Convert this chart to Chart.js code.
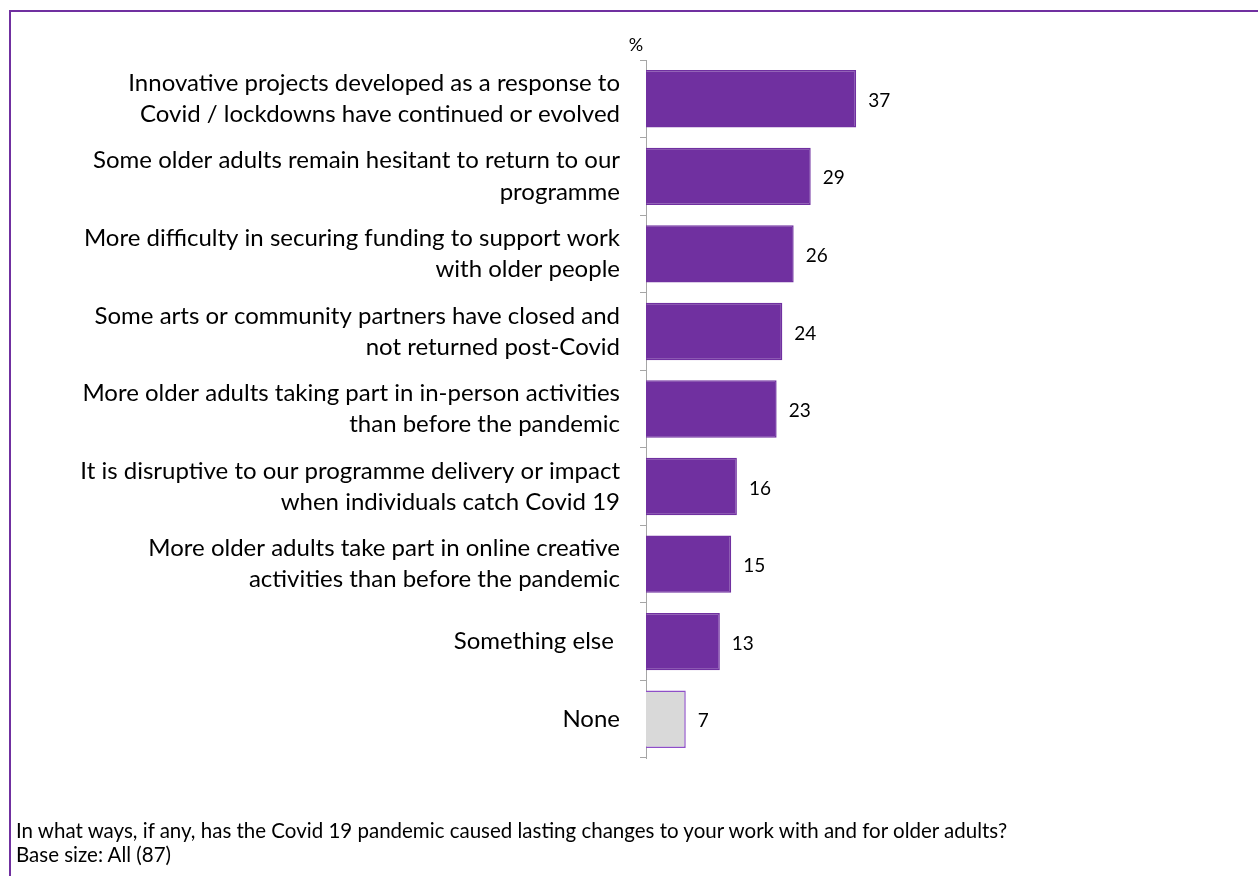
<!DOCTYPE html>
<html>
<head>
<meta charset="utf-8">
<script src="https://cdn.jsdelivr.net/npm/chart.js@4.4.1/dist/chart.umd.min.js"></script>
<style>
    body { margin: 0; background: #fff; font-family: Lato, "Open Sans", sans-serif; }
    #wrap { position: relative; width: 1258px; height: 876px; overflow: hidden; }
    #frame {
        position: absolute; left: 9px; top: 10px; width: 1300px; height: 900px;
        border-left: 2px solid #7030A0; border-top: 2px solid #7030A0;
    }
    #chartBox { position: absolute; left: 0; top: 0; width: 1258px; height: 876px; }
    #note {
        position: absolute; left: 16px; top: 818px;
        font-size: 20.5px; line-height: 24px; color: #000;
    }
</style>
</head>
<body>
<div id="wrap">
    <div id="frame"></div>
    <div id="chartBox"><canvas id="lastingChart"></canvas></div>
    <div id="note">
        In what ways, if any, has the Covid 19 pandemic caused lasting changes to your work with and for older adults?<br>
        Base size: All (87)
    </div>
</div>
<script>
// Responses, top to bottom
const categories = [
    ['Innovative projects developed as a response to', 'Covid / lockdowns have continued or evolved'],
    ['Some older adults remain hesitant to return to our', 'programme'],
    ['More difficulty in securing funding to support work', 'with older people'],
    ['Some arts or community partners have closed and', 'not returned post-Covid'],
    ['More older adults taking part in in-person activities', 'than before the pandemic'],
    ['It is disruptive to our programme delivery or impact', 'when individuals catch Covid 19'],
    ['More older adults take part in online creative', 'activities than before the pandemic'],
    'Something else ',
    'None'
];
const percentages = [37, 29, 26, 24, 23, 16, 15, 13, 7];

const PURPLE = '#7030A0';
const fillColours = percentages.map((v, i) => i === percentages.length - 1 ? '#D9D9D9' : PURPLE);
const edgeColours = percentages.map((v, i) => i === percentages.length - 1 ? '#8E4FC8' : PURPLE);

// Value labels at the bar ends plus the "%" marker above the axis
const barLabels = {
    id: 'barLabels',
    afterDatasetsDraw(chart) {
        const ctx = chart.ctx;
        const meta = chart.getDatasetMeta(0);
        ctx.save();
        ctx.fillStyle = '#000';
        ctx.font = '19px Lato, "Open Sans", sans-serif';
        ctx.textAlign = 'left';
        ctx.textBaseline = 'middle';
        meta.data.forEach((bar, i) => {
            ctx.fillText(String(percentages[i]), bar.x + 12, bar.y + 2);
        });
        ctx.textAlign = 'center';
        ctx.font = '18px Lato, "Open Sans", sans-serif';
        ctx.fillText('%', chart.chartArea.left - 10, chart.chartArea.top - 15);
        ctx.restore();
    }
};

const ctx = document.getElementById('lastingChart').getContext('2d');
new Chart(ctx, {
    type: 'bar',
    data: {
        labels: categories,
        datasets: [{
            data: percentages,
            backgroundColor: fillColours,
            borderColor: edgeColours,
            borderWidth: 1.5,
            barPercentage: 0.74,
            categoryPercentage: 1
        }]
    },
    options: {
        indexAxis: 'y',
        responsive: true,
        maintainAspectRatio: false,
        animation: false,
        layout: { padding: { left: 0, right: 44, top: 60, bottom: 118 } },
        plugins: {
            legend: { display: false },
            tooltip: { enabled: false }
        },
        scales: {
            x: {
                display: false,
                min: 0,
                max: 100
            },
            y: {
                afterFit(scale) { scale.width = 646; },
                border: { display: true, color: '#A6A6A6', width: 1 },
                grid: {
                    drawOnChartArea: false,
                    drawTicks: true,
                    tickLength: 6,
                    color: '#A6A6A6',
                    offset: true
                },
                ticks: {
                    color: '#000',
                    padding: 20,
                    font: { family: 'Lato, "Open Sans", sans-serif', size: 24, lineHeight: 1.3 }
                }
            }
        }
    },
    plugins: [barLabels]
});
</script>
</body>
</html>
